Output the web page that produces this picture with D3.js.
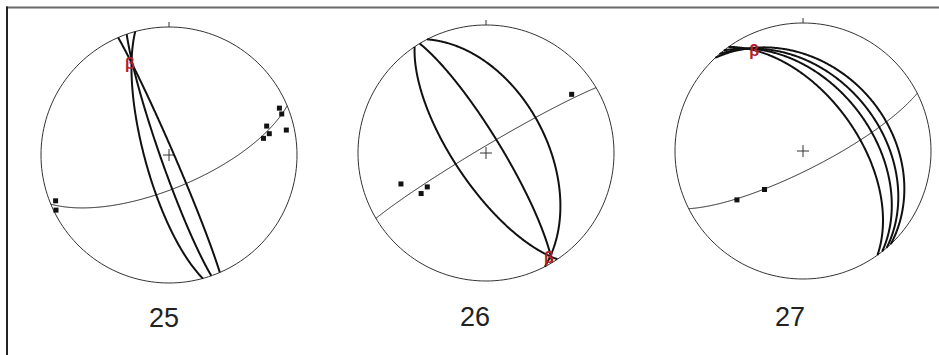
<!DOCTYPE html>
<html>
<head>
<meta charset="utf-8">
<script src="https://cdn.jsdelivr.net/npm/d3@7"></script>
<style>
  html, body { margin: 0; padding: 0; background: #fff; }
  svg { display: block; }
</style>
</head>
<body>
<script>
// Net captions
const netLabels = ["25", "26", "27"];

// Bedding planes as [strike, dip] (right-hand rule), drawn as heavy great circles
const planes25 = [[164.7, 74.6], [160.7, 84.5], [336.6, 87]];
const planes26 = [[146.1, 70], [328.8, 80], [332.6, 51]];
const planes27 = [[316.7, 34], [319.2, 40], [321.8, 46], [324.4, 55]];

// Best-fit girdle of the poles, [strike, dip]
const girdle25 = [67.4, 69];
const girdle26 = [239.3, 86];
const girdle27 = [63.2, 78];

// Poles as [trend, plunge]
const poles25 = [[248, 5], [244, 2], [67, 7], [70, 7], [73.5, 21.5], [78, 21], [80, 26], [78, 7]];
const poles26 = [[55.6, 20], [250, 30], [240, 46], [238, 40]];
const poles27 = [[233.5, 36], [225, 55]];

// Fold axis (beta) as [trend, plunge]
const beta25 = [337, 23];
const beta26 = [149, 5];
const beta27 = [334, 14];

const W = 939, H = 355;
const R = 128;
const layout = [
  { cx: 169, cy: 155, lx: 164, ly: 318 },
  { cx: 486, cy: 153, lx: 475, ly: 317 },
  { cx: 803, cy: 151, lx: 790, ly: 317 }
];

const nets = [
  { label: netLabels[0], planes: planes25, girdle: girdle25, poles: poles25, beta: beta25 },
  { label: netLabels[1], planes: planes26, girdle: girdle26, poles: poles26, beta: beta26 },
  { label: netLabels[2], planes: planes27, girdle: girdle27, poles: poles27, beta: beta27 }
];

const svg = d3.select("body").append("svg")
  .attr("width", W).attr("height", H)
  .attr("viewBox", `0 0 ${W} ${H}`);

// Frame: rule along the top, rule down the left side
svg.append("line").attr("x1", 6).attr("x2", W).attr("y1", 7.5).attr("y2", 7.5)
  .attr("stroke", "#6a6a6a").attr("stroke-width", 2);
svg.append("line").attr("x1", 7).attr("x2", 7).attr("y1", 6.5).attr("y2", H)
  .attr("stroke", "#222").attr("stroke-width", 2);

// Lower-hemisphere equal-area (Schmidt) net; [trend, plunge] -> [lon, -lat]
const toGeo = ([trend, plunge]) => [trend, -plunge];

function planeLine([strike, dip]) {
  const poleTrend = strike + 270;
  const polePlunge = 90 - dip;
  const ring = d3.geoCircle()
    .center(toGeo([poleTrend, polePlunge]))
    .radius(90).precision(0.5)().coordinates[0];
  return { type: "LineString", coordinates: ring };
}

nets.forEach((net, i) => {
  const { cx, cy, lx, ly } = layout[i];
  const proj = d3.geoAzimuthalEqualArea()
    .rotate([0, 90])
    .clipAngle(90)
    .scale(R / Math.SQRT2)
    .translate([cx, cy])
    .precision(0.1);
  const path = d3.geoPath(proj);
  const g = svg.append("g");

  // Primitive circle
  g.append("path").datum({ type: "Sphere" }).attr("d", path)
    .attr("fill", "none").attr("stroke", "#333").attr("stroke-width", 1);

  // North tick
  const north = proj(toGeo([0, 0]));
  g.append("line").attr("x1", north[0]).attr("x2", north[0])
    .attr("y1", north[1]).attr("y2", north[1] - 5)
    .attr("stroke", "#333").attr("stroke-width", 1);

  // Centre cross
  const c = proj(toGeo([0, 90]));
  g.append("path")
    .attr("d", `M${c[0] - 6},${c[1]}H${c[0] + 6}M${c[0]},${c[1] - 6}V${c[1] + 6}`)
    .attr("stroke", "#333").attr("stroke-width", 1).attr("fill", "none");

  // Girdle
  g.append("path").datum(planeLine(net.girdle)).attr("d", path)
    .attr("fill", "none").attr("stroke", "#222").attr("stroke-width", 1);

  // Bedding great circles
  g.selectAll(".plane").data(net.planes).join("path")
    .attr("class", "plane")
    .attr("d", d => path(planeLine(d)))
    .attr("fill", "none").attr("stroke", "#111").attr("stroke-width", 2);

  // Poles
  g.selectAll(".pole").data(net.poles).join("rect")
    .attr("class", "pole")
    .attr("x", d => proj(toGeo(d))[0] - 2.5)
    .attr("y", d => proj(toGeo(d))[1] - 2.5)
    .attr("width", 5).attr("height", 5)
    .attr("fill", "#111");

  // Beta axis
  const b = proj(toGeo(net.beta));
  g.append("text").attr("x", b[0]).attr("y", b[1])
    .attr("text-anchor", "middle").attr("dominant-baseline", "central")
    .attr("font-family", "Liberation Sans, Arial, sans-serif")
    .attr("font-weight", "bold").attr("font-size", 16)
    .attr("fill", "#b0202a").text("β");

  // Caption
  g.append("text").attr("x", lx).attr("y", ly)
    .attr("text-anchor", "middle").attr("dominant-baseline", "central")
    .attr("font-family", "Liberation Sans, Arial, sans-serif")
    .attr("font-size", 27).attr("fill", "#222").text(net.label);
});
</script>
</body>
</html>
